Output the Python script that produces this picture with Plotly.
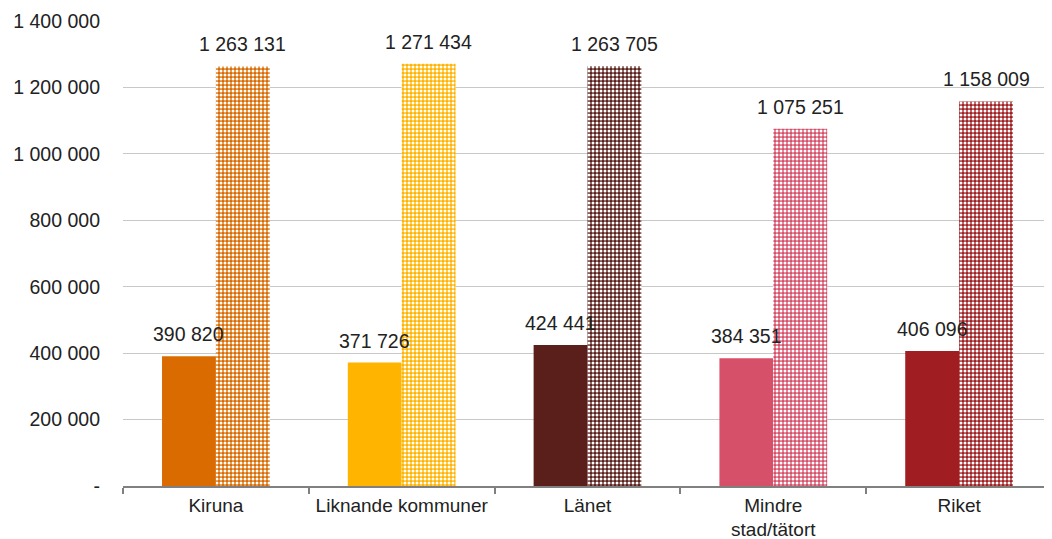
import plotly.graph_objects as go

categories = ["Kiruna", "Liknande kommuner", "Länet", "Mindre<br>stad/tätort", "Riket"]
series_a = [390820, 371726, 424441, 384351, 406096]
series_b = [1263131, 1271434, 1263705, 1075251, 1158009]
colors = ["#DA6B00", "#FFB400", "#5A1F1B", "#D7506A", "#A01E21"]
tick_vals = [0, 200000, 400000, 600000, 800000, 1000000, 1200000, 1400000]
tick_text = ["-", "200 000", "400 000", "600 000", "800 000", "1 000 000", "1 200 000", "1 400 000"]

def fmt(v):
    return f"{v:,}".replace(",", " ")

font = "Liberation Sans, Arial, sans-serif"
fs = 19.5
txtcol = "#222222"
fig = go.Figure()
fig.add_trace(go.Bar(
    x=categories, y=series_a, name="A", offsetgroup="A",
    marker=dict(color=colors, line=dict(width=0)),
    hovertemplate="%{x}: %{y:,}<extra></extra>",
))
for cat, val, col in zip(categories, series_b, colors):
    fig.add_trace(go.Bar(
        x=[cat], y=[val], name="B", offsetgroup="B",
        marker=dict(color=col, line=dict(width=0),
                    pattern=dict(shape=".", fgcolor="white", bgcolor=col,
                                 fillmode="replace", size=4, solidity=0.45)),
        hovertemplate="%{x}: %{y:,}<extra></extra>",
    ))

half = 0.145
for i, (a, b) in enumerate(zip(series_a, series_b)):
    for off, v in ((-half, a), (half, b)):
        fig.add_annotation(x=i + off, y=v, xref="x", yref="y", text=fmt(v),
                           showarrow=False, yanchor="bottom", yshift=9,
                           font=dict(family=font, size=fs, color=txtcol))

fig.update_layout(
    width=1044, height=531,
    margin=dict(l=115, r=0, t=13, b=53, autoexpand=False),
    paper_bgcolor="white", plot_bgcolor="white",
    barmode="group", bargap=0.42, bargroupgap=0,
    showlegend=False,
    separators=", ",
    font=dict(family=font, size=fs, color=txtcol),
)
fig.update_xaxes(
    type="category", categoryorder="array", categoryarray=categories,
    showline=True, linecolor="#808080", linewidth=1.5,
    ticks="outside", tickson="boundaries", ticklen=6, tickcolor="#808080", tickwidth=1.5,
    showgrid=False, automargin=False, tickangle=0, ticklabelstandoff=1,
    tickfont=dict(family=font, size=19, color=txtcol),
)
fig.update_yaxes(
    range=[0, 1400000], tickvals=tick_vals, ticktext=tick_text,
    showgrid=True, gridcolor="#C8C8C8", gridwidth=1, zeroline=False,
    ticks="", ticklabelstandoff=22, showline=False, automargin=False,
    tickfont=dict(family=font, size=fs, color=txtcol),
)
fig.write_html("out.html")
